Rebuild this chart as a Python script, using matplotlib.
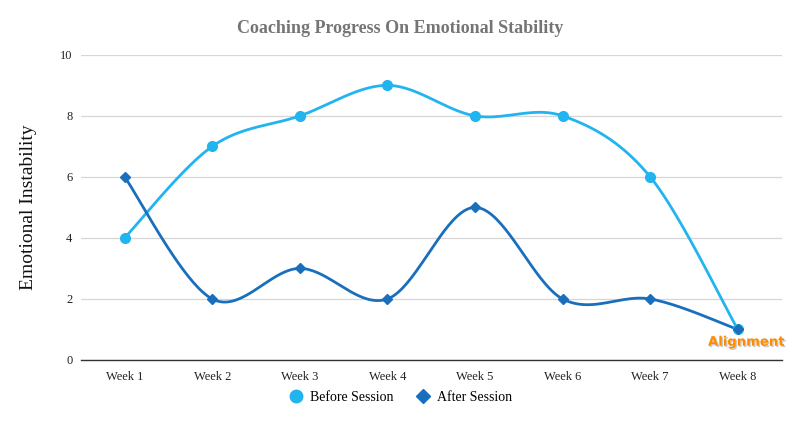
import numpy as np
import matplotlib
matplotlib.use("Agg")
import matplotlib.pyplot as plt
import matplotlib.patheffects as pe

weeks = ["Week 1", "Week 2", "Week 3", "Week 4", "Week 5", "Week 6", "Week 7", "Week 8"]
before = [4, 7, 8, 9, 8, 8, 6, 1]
after = [6, 2, 3, 2, 5, 2, 2, 1]

plt.rcParams['font.family'] = ['Liberation Serif', 'DejaVu Serif']

def catmull(xs, ys, n=40, t=0.5):
    xs = np.asarray(xs, float); ys = np.asarray(ys, float)
    px = np.concatenate([[xs[0]], xs, [xs[-1]]])
    py = np.concatenate([[ys[0]], ys, [ys[-1]]])
    ox, oy = [], []
    for i in range(1, len(px) - 2):
        p0, p1, p2, p3 = [np.array([px[j], py[j]]) for j in (i - 1, i, i + 1, i + 2)]
        m1 = t * (p2 - p0)
        m2 = t * (p3 - p1)
        s = np.linspace(0, 1, n, endpoint=False)
        h00 = 2*s**3 - 3*s**2 + 1; h10 = s**3 - 2*s**2 + s
        h01 = -2*s**3 + 3*s**2; h11 = s**3 - s**2
        pts = (h00[:, None]*p1 + h10[:, None]*m1 + h01[:, None]*p2 + h11[:, None]*m2)
        ox.extend(pts[:, 0]); oy.extend(pts[:, 1])
    ox.append(xs[-1]); oy.append(ys[-1])
    return np.array(ox), np.array(oy)

fig = plt.figure(figsize=(8, 4.22), dpi=100)
ax = fig.add_axes([0.101, 0.147, 0.876, 0.723])

x = np.arange(len(weeks))
c_before = "#22b4ef"
c_after = "#1a6fbd"

sx, sy = catmull(x, before)
ax.plot(sx, sy, color=c_before, lw=2.0, zorder=3)
ax.plot(x, before, 'o', color=c_before, ms=7, zorder=4)
sx, sy = catmull(x, after)
ax.plot(sx, sy, color=c_after, lw=2.0, zorder=3)
ax.plot(x, after, 'D', color=c_after, ms=5, zorder=4)

ax.set_xlim(-0.5, len(weeks) - 0.5)
ax.set_ylim(0, 10)
ax.set_yticks([0, 2, 4, 6, 8, 10])
ax.set_xticks(x)
ax.set_xticklabels(weeks)
ax.tick_params(axis='both', length=0, labelsize=9, colors="#222222")
ax.tick_params(axis='y', pad=6)
ax.tick_params(axis='x', pad=8)
ax.grid(axis='y', color="#d6d6d6", lw=0.9)
ax.set_axisbelow(True)
for s in ['left', 'right', 'top']:
    ax.spines[s].set_visible(False)
ax.spines['bottom'].set_color("#333333")
ax.spines['bottom'].set_linewidth(1.0)

ax.set_ylabel("Emotional Instability", fontsize=14, color="#111111")
ax.yaxis.set_label_coords(-0.062, 0.5)
fig.text(0.5, 0.932, "Coaching Progress On Emotional Stability", ha='center', va='center',
         fontsize=13, fontweight='bold', color="#757575")

h1 = plt.Line2D([], [], marker='o', color=c_before, ls='none', ms=9)
h2 = plt.Line2D([], [], marker='D', color=c_after, ls='none', ms=7)
fig.legend([h1, h2], ["Before Session", "After Session"], loc='center',
           bbox_to_anchor=(0.5, 0.058), ncol=2, frameon=False, fontsize=10,
           handletextpad=0.4, columnspacing=1.5, handlelength=1.2)

fig.text(0.933, 0.189, "Alignment", ha='center', va='center', fontsize=9.5,
         color="#ff8c00", family=['DejaVu Sans'], fontweight='bold',
         path_effects=[pe.withSimplePatchShadow(offset=(1, -1), shadow_rgbFace="#999999", alpha=0.5)])

fig.savefig("out.png", dpi=100)
